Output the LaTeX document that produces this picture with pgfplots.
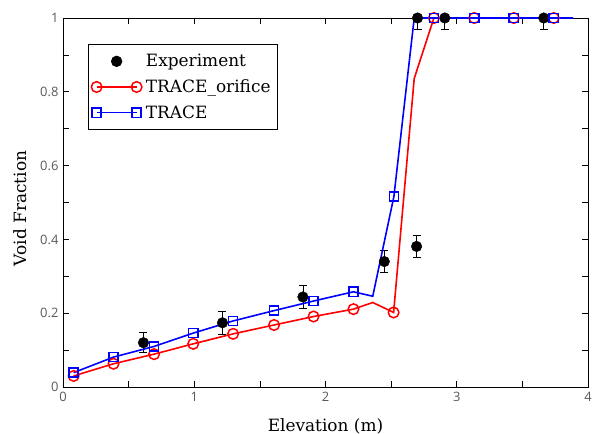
\documentclass[border=0pt]{standalone}
\usepackage{pgfplots}
\pgfplotsset{compat=1.18}
\usepackage{fontspec}
\setmainfont{DejaVu Serif}
\newfontfamily\tickfont{Open Sans}

\pgfplotstableread{
x y
0.081 0.039
0.385 0.081
0.694 0.110
0.992 0.146
1.296 0.179
1.608 0.207
1.909 0.233
2.213 0.258
2.360 0.246
2.521 0.516
2.676 1.000
2.826 1.000
3.133 1.000
3.435 1.000
3.739 1.000
3.887 1.000
}\trace

\pgfplotstableread{
x y
0.081 0.030
0.385 0.063
0.694 0.089
0.992 0.117
1.296 0.144
1.608 0.168
1.909 0.191
2.213 0.211
2.360 0.229
2.519 0.202
2.676 0.836
2.826 1.000
3.133 1.000
3.435 1.000
3.739 1.000
3.887 1.000
}\orifice

\pgfplotstableread{
x y eplus eminus
0.613 0.120 0.027 0.027
1.215 0.174 0.031 0.031
1.828 0.244 0.031 0.031
2.448 0.340 0.030 0.030
2.694 0.381 0.030 0.030
2.701 1.000 0.000 0.030
2.909 1.000 0.000 0.030
3.663 1.000 0.000 0.030
}\experiment

\pgfplotsset{
  twomarkleg/.style={legend image code/.code={\draw[##1, line width=1.6bp] plot coordinates {(0bp,0bp) (40bp,0bp)};}},
  dotleg/.style={legend image code/.code={\path (0bp,0bp) (40bp,0bp); \draw[##1] plot coordinates {(20bp,0bp)};}}
}

\begin{document}
\begin{tikzpicture}
\begin{axis}[name=ax, scale only axis, width=525bp, height=369bp,
  xmin=0, xmax=4, ymin=0, ymax=1,
  xtick={0,1,2,3,4}, minor xtick={0.5,1.5,2.5,3.5},
  ytick={0,0.2,0.4,0.6,0.8,1}, minor ytick={0.1,0.3,0.5,0.7,0.9},
  tick align=inside, major tick length=6bp, minor tick length=6bp,
  tick style={black, line width=0.7bp},
  axis line style={line width=0.9bp},
  /pgf/number format/assume math mode=true,
  tick label style={font=\tickfont\fontsize{13}{13}\selectfont, text=black!65},
  xticklabel style={yshift=-2bp},
  yticklabel style={xshift=-1bp},
  xlabel={Elevation (m)}, ylabel={Void Fraction},
  label style={font=\fontsize{17}{17}\selectfont},
  xlabel style={at={(axis description cs:0.5,0)}, anchor=base, yshift=-44bp},
  ylabel style={at={(axis description cs:0,0.5)}, anchor=base, xshift=-6bp, yshift=36bp},
  legend style={at={(axis description cs:0.0476,0.9295)}, anchor=north west,
    font=\fontsize{17}{17}\selectfont, draw=black, line width=0.7bp,
    inner xsep=3bp, inner ysep=8bp, row sep=7.5bp, cells={anchor=west},
    nodes={inner xsep=4bp}},
  legend cell align=left,
]
\addplot[only marks, mark=*, mark size=5.3bp, black, dotleg,
  error bars/.cd, y dir=both, y explicit,
  error bar style={black, line width=0.7bp},
  error mark options={rotate=90, mark size=4bp, black, line width=0.7bp}]
  table[x=x, y=y, y error plus=eplus, y error minus=eminus] {\experiment};
\addlegendentry{Experiment}
\addplot[red, line width=1.6bp, mark=o, mark size=5.3bp,
  mark options={line width=1.5bp, fill=none},
  mark indices={1,2,3,4,5,6,7,8,10,12,13,14,15}, twomarkleg]
  table[x=x, y=y] {\orifice};
\addlegendentry{TRACE\_orifice}
\addplot[blue, line width=1.6bp, mark=square, mark size=4.6bp,
  mark options={line width=1.5bp, fill=none},
  mark indices={1,2,3,4,5,6,7,8,10,12,13,14,15}, twomarkleg]
  table[x=x, y=y] {\trace};
\addlegendentry{TRACE}
\end{axis}
\pgfresetboundingbox
\path ([xshift=-63bp,yshift=-47bp]ax.south west) rectangle ([xshift=6bp,yshift=18bp]ax.north east);
\end{tikzpicture}
\end{document}
